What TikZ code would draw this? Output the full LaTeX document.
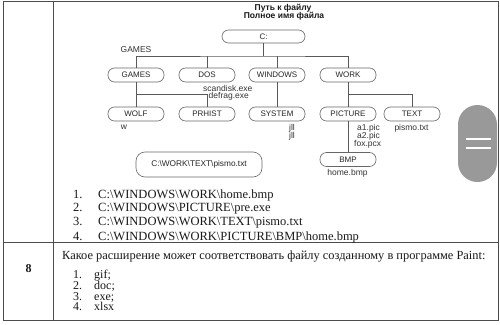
\documentclass[tikz,border=0pt]{standalone}
\usepackage{fontspec}
\setmainfont{Liberation Serif}
\newfontfamily\arsans{Liberation Sans}
\begin{document}
\begin{tikzpicture}[x=1pt,y=-1pt,
  pill/.style={draw=black!60, line width=0.6pt, rounded corners=6.5pt, minimum width=56pt, minimum height=14pt, inner sep=0pt, font=\arsans\fontsize{8}{9}\selectfont, text=black!85},
  lbl/.style={font=\arsans\fontsize{8.5}{9}\selectfont, text=black!80, inner sep=0pt, anchor=base},
  ttl/.style={font=\arsans\bfseries\fontsize{8.5}{9}\selectfont, text=black!90, inner sep=0pt, anchor=base},
  conn/.style={draw=black!65, line width=0.6pt},
  gridline/.style={draw=black!70, line width=1pt},
  ser/.style={font=\fontsize{12.5}{14}\selectfont, inner sep=0pt, anchor=base west, text=black!90},
  sersm/.style={font=\fontsize{12}{13}\selectfont, inner sep=0pt, anchor=base west, text=black!90}]
\useasboundingbox (0,0) rectangle (500,324);
\fill[white] (0,0) rectangle (500,324);
% table
\draw[gridline] (3.5,1) rectangle (498,320);
\draw[gridline] (53,1) -- (53,320);
\draw[gridline] (3.5,242.5) -- (498,242.5);
% title
\node[ttl] (t1) at (283,10) {Путь к файлу};
\node[ttl] (t2) at (284,18.5) {Полное имя файла};
% nodes
\node[pill, minimum width=83pt, minimum height=13pt] (C) at (263.5,36.5) {C:};
\node[pill] (GAMES) at (136,75) {GAMES};
\node[pill] (DOS) at (207,75) {DOS};
\node[pill] (WINDOWS) at (277,75) {WINDOWS};
\node[pill] (WORK) at (348,75) {WORK};
\node[pill] (WOLF) at (136,114) {WOLF};
\node[pill] (PRHIST) at (207,114) {PRHIST};
\node[pill] (SYSTEM) at (277,114) {SYSTEM};
\node[pill] (PICTURE) at (348,114) {PICTURE};
\node[pill] (TEXT) at (412,114) {TEXT};
\node[pill] (BMP) at (348,159.5) {BMP};
\node[pill, minimum width=126pt, minimum height=25pt, rounded corners=9pt, font=\arsans\fontsize{8.3}{9}\selectfont] (PATH) at (199,164.5) {C:\textbackslash WORK\textbackslash TEXT\textbackslash pismo.txt};
% connectors
\coordinate (j0) at (263,56);
\coordinate (j1) at (136,94);
\coordinate (j2) at (348,94);
\draw[conn] (C.south -| j0) -- (j0);
\draw[conn] (GAMES.north) |- (j0) -| (WORK.north);
\draw[conn] (DOS.north) -- (DOS.north |- j0);
\draw[conn] (WINDOWS.north) -- (WINDOWS.north |- j0);
\draw[conn] (GAMES.south) -- (WOLF.north);
\draw[conn] (j1) -| (PRHIST.north);
\draw[conn] (WINDOWS.south) -- (SYSTEM.north);
\draw[conn] (WORK.south) -- (PICTURE.north);
\draw[conn] (j2) -| (TEXT.north);
\draw[conn] (PICTURE.south) -- (BMP.north);
% labels
\node[lbl] (lg) at (136,52.5) {GAMES};
\node[lbl, anchor=base west] (ls) at (203,91.5) {scandisk.exe};
\node[lbl, anchor=base west] (ld) at (208.5,98.5) {defrag.exe};
\node[lbl] (lw) at (124,129.5) {w};
\node[lbl] (lj1) at (292,130) {jll};
\node[lbl] (lj2) at (292,138) {jll};
\node[lbl, anchor=base west] (la1) at (357,130) {a1.pic};
\node[lbl, anchor=base west] (la2) at (357,138) {a2.pic};
\node[lbl, anchor=base west] (lf) at (354,146) {fox.pcx};
\node[lbl] (lp) at (411.5,130) {pismo.txt};
\node[lbl] (lh) at (347.5,175.5) {home.bmp};
% grey pill
\fill[black!40, rounded corners=19.5pt] (458,105) rectangle (497,182);
\draw[white, line width=2pt] (466,139) -- (491,139);
\draw[white, line width=2pt] (466,148) -- (491,148);
% list 1
\node[ser] (n1) at (73,198) {1.};
\node[ser] (n2) at (73,211.7) {2.};
\node[ser] (n3) at (73,225.7) {3.};
\node[ser] (n4) at (73,240) {4.};
\node[ser] (i1) at (98,198) {C:\textbackslash WINDOWS\textbackslash WORK\textbackslash home.bmp};
\node[ser] (i2) at (98,211.7) {C:\textbackslash WINDOWS\textbackslash PICTURE\textbackslash pre.exe};
\node[ser] (i3) at (98,225.7) {C:\textbackslash WINDOWS\textbackslash WORK\textbackslash TEXT\textbackslash pismo.txt};
\node[ser] (i4) at (98,240) {C:\textbackslash WINDOWS\textbackslash WORK\textbackslash PICTURE\textbackslash BMP\textbackslash home.bmp};
% question 8
\node[sersm, font=\bfseries\fontsize{12}{13}\selectfont, anchor=base] (q8) at (28.5,272) {8};
\node[sersm, font=\fontsize{12.4}{13}\selectfont] (q) at (62,259) {Какое расширение может соответствовать файлу созданному в программе Paint:};
\node[sersm] (m1) at (73,278) {1.};
\node[sersm] (m2) at (73,289) {2.};
\node[sersm] (m3) at (73,300) {3.};
\node[sersm] (m4) at (73,310.7) {4.};
\node[sersm] (a1) at (94,278) {gif;};
\node[sersm] (a2) at (94,289) {doc;};
\node[sersm] (a3) at (94,300) {exe;};
\node[sersm] (a4) at (94,310.7) {xlsx};
\end{tikzpicture}
\end{document}
